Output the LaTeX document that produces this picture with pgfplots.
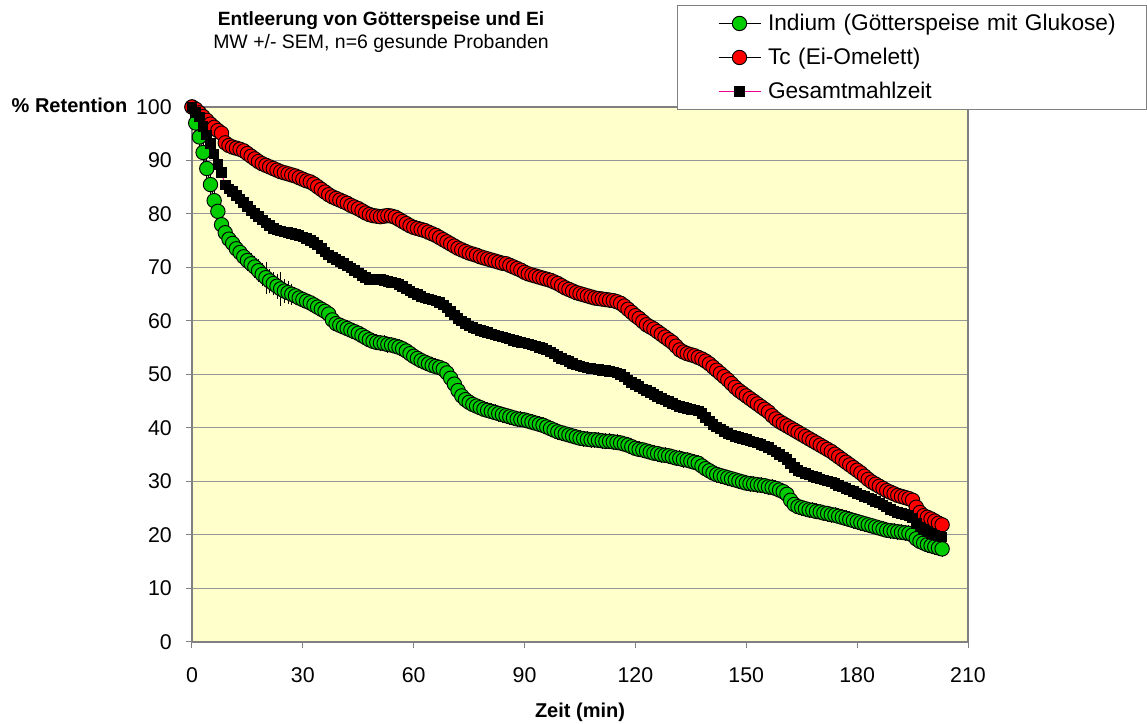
\documentclass[border=0pt]{standalone}
\usepackage{fontspec}
\setmainfont{Liberation Sans}
\usepackage{pgfplots}
\usepackage{pgfplotstable}
\pgfplotsset{compat=1.18}

\definecolor{plotbg}{RGB}{255,255,204}
\definecolor{indgreen}{RGB}{0,204,0}
\definecolor{tcred}{RGB}{255,0,0}
\definecolor{framegray}{RGB}{128,128,128}
\definecolor{gridgray}{RGB}{150,150,150}

% t: Zeit (min); ind: Indium (% Retention); ise: SEM Indium; tc: Tc; ges: Gesamtmahlzeit
\pgfplotstableread{
t ind ise tc ges
0 100 0 100 100
1 97 1.5 99.6 99
2 94.4 1.5 98.9 98.1
3 91.5 1.5 98.2 96.3
4 88.5 1.5 97.5 94.8
5 85.5 1.2 96.8 93.2
6 82.5 1 96.2 91.2
7 80.5 1 95.6 89.2
8 78 1 95.1 87.7
9 76.5 1 93.3 85.4
10 75.3 1 92.8 84.7
11 74.5 1 92.5 84.2
12 73.5 1 92.3 83.5
13 72.8 1 92.1 82.8
14 72 1 91.8 82.1
15 71.3 1 91.3 81.4
16 70.7 1 90.8 80.7
17 70.1 1.1 90.3 80.1
18 69.4 1.2 89.8 79.5
19 68.7 1.2 89.4 78.9
20 68.1 2 89.1 78.3
21 67.5 1.2 88.8 77.8
22 67 1.2 88.5 77.3
23 66.5 1.3 88.2 77
24 66 2.2 87.9 76.8
25 65.6 1.2 87.7 76.6
26 65.3 1.1 87.5 76.5
27 65 1 87.3 76.4
28 64.7 0.5 87.1 76.2
29 64.3 0.5 86.8 76
30 64 0.5 86.5 75.7
31 63.7 0.5 86.2 75.4
32 63.4 0.5 86 75.1
33 63 0.5 85.6 74.7
34 62.6 0.5 85.1 74.2
35 62.2 0.5 84.6 73.6
36 61.8 0.5 84.1 72.9
37 61.3 0.5 83.6 72.3
38 60.2 0.5 83.2 71.9
39 59.5 0.5 82.9 71.5
40 59.2 0.5 82.6 71.1
41 58.9 0.5 82.3 70.7
42 58.6 0.5 82 70.3
43 58.3 0.5 81.6 69.9
44 58 0.5 81.3 69.4
45 57.7 0.5 81 69
46 57.3 0.5 80.6 68.5
47 56.9 0.5 80.2 68.1
48 56.5 0.5 79.9 67.8
49 56.2 0.5 79.7 67.7
50 56 0.5 79.6 67.7
51 55.9 0.5 79.5 67.7
52 55.8 0.5 79.6 67.6
53 55.6 0.5 79.7 67.4
54 55.5 0.5 79.6 67.2
55 55.3 0.5 79.4 67.1
56 55.1 0.5 79 66.8
57 54.8 0.5 78.6 66.4
58 54.4 0.5 78.2 66
59 53.9 0.5 77.8 65.6
60 53.4 0.5 77.5 65.2
61 53 0.5 77.3 64.9
62 52.6 0.5 77.1 64.6
63 52.3 0.5 76.9 64.3
64 52 0.5 76.6 64.1
65 51.7 0.5 76.3 63.9
66 51.5 0.5 76 63.7
67 51.3 0.5 75.6 63.5
68 51 0.5 75.2 63
69 50.3 0.5 74.8 62.4
70 49.3 0.5 74.4 61.8
71 48.2 0.5 74 61.1
72 47 0.5 73.6 60.5
73 46 0.5 73.3 60
74 45.3 0.5 73 59.5
75 44.8 0.5 72.7 59.1
76 44.4 0.5 72.5 58.8
77 44.1 0.5 72.3 58.5
78 43.8 0.5 72 58.2
79 43.5 0.5 71.8 58
80 43.3 0.5 71.6 57.8
81 43.1 0.5 71.4 57.6
82 42.9 0.5 71.2 57.4
83 42.7 0.5 71 57.2
84 42.5 0.5 70.8 57
85 42.3 0.5 70.7 56.8
86 42.1 0.5 70.4 56.6
87 41.9 0.5 70.1 56.4
88 41.7 0.5 69.8 56.2
89 41.6 0.5 69.5 56
90 41.5 0.5 69.1 55.9
91 41.3 0.5 68.8 55.7
92 41.1 0.5 68.6 55.5
93 40.9 0.5 68.4 55.3
94 40.7 0.5 68.2 55.1
95 40.5 0.5 68 54.9
96 40.2 0.5 67.8 54.6
97 39.9 0.5 67.6 54.2
98 39.6 0.5 67.3 53.8
99 39.3 0.5 67 53.4
100 39.1 0.5 66.6 53
101 38.9 0.5 66.2 52.7
102 38.7 0.5 65.9 52.4
103 38.5 0.5 65.6 52.1
104 38.3 0.5 65.3 51.8
105 38.1 0.5 65.1 51.6
106 38 0.5 64.9 51.4
107 37.9 0.5 64.7 51.2
108 37.8 0.5 64.5 51.1
109 37.8 0.5 64.3 51
110 37.7 0.5 64.2 50.9
111 37.6 0.5 64.1 50.8
112 37.5 0.5 64 50.7
113 37.5 0.5 63.9 50.6
114 37.4 0.5 63.8 50.5
115 37.3 0.5 63.6 50.3
116 37.2 0.5 63.3 50
117 37 0.5 62.8 49.5
118 36.8 0.5 62.2 49
119 36.5 0.5 61.6 48.5
120 36.2 0.5 61 48.1
121 36 0.5 60.5 47.7
122 35.9 0.5 59.9 47.3
123 35.7 0.5 59.3 47
124 35.5 0.5 58.9 46.6
125 35.3 0.5 58.5 46.3
126 35.2 0.5 58 45.9
127 35 0.5 57.5 45.5
128 34.9 0.5 57 45.2
129 34.8 0.5 56.5 44.9
130 34.6 0.5 56 44.6
131 34.4 0.5 55.3 44.3
132 34.3 0.5 54.6 44
133 34.1 0.5 54.2 43.8
134 34 0.5 53.9 43.6
135 33.8 0.5 53.7 43.5
136 33.6 0.5 53.5 43.4
137 33.4 0.5 53.2 43.2
138 32.9 0.5 52.9 42.7
139 32.4 0.5 52.5 42
140 32 0.5 52 41.3
141 31.6 0.5 51.4 40.7
142 31.3 0.5 50.8 40.2
143 31.1 0.5 50.2 39.8
144 30.9 0.5 49.6 39.4
145 30.7 0.5 49 39
146 30.5 0.5 48.3 38.7
147 30.3 0.5 47.6 38.4
148 30.1 0.5 47 38.2
149 29.9 0.5 46.5 38
150 29.7 0.5 46 37.8
151 29.6 0.5 45.5 37.6
152 29.5 0.5 45 37.4
153 29.4 0.5 44.5 37.2
154 29.3 0.5 44 36.9
155 29.2 0.5 43.5 36.6
156 29 0.5 43 36.3
157 28.9 0.5 42.3 35.9
158 28.7 0.5 41.7 35.5
159 28.4 0.5 41.2 35.1
160 28.1 0.5 40.8 34.6
161 27.6 0.5 40.4 34.1
162 26.5 0.5 40 33.4
163 25.7 0.5 39.6 32.6
164 25.3 0.5 39.2 32.1
165 25.1 0.5 38.8 31.8
166 24.9 0.5 38.4 31.5
167 24.7 0.5 38 31.2
168 24.6 0.5 37.6 30.9
169 24.4 0.5 37.2 30.7
170 24.3 0.5 36.8 30.5
171 24.1 0.5 36.4 30.3
172 24 0.5 36 30.1
173 23.8 0.5 35.6 29.9
174 23.7 0.5 35.1 29.6
175 23.5 0.5 34.6 29.3
176 23.3 0.5 34.1 29
177 23.1 0.5 33.6 28.7
178 22.9 0.5 33.1 28.4
179 22.7 0.5 32.6 28.1
180 22.5 0.5 32.1 27.8
181 22.3 0.5 31.6 27.5
182 22.1 0.5 31 27.2
183 21.9 0.5 30.4 26.9
184 21.7 0.5 29.9 26.6
185 21.5 0.5 29.5 26.3
186 21.3 0.5 29.1 26
187 21.1 0.5 28.7 25.6
188 20.9 0.5 28.3 25.2
189 20.8 0.5 28 24.8
190 20.7 0.5 27.7 24.5
191 20.6 0.5 27.4 24.2
192 20.5 0.5 27.2 24
193 20.4 0.5 27 23.8
194 20.3 0.5 26.8 23.6
195 20 0.5 26.5 23.2
196 19.3 0.5 25.2 22.2
197 18.8 0.5 24.2 21.5
198 18.5 0.5 23.6 21
199 18.2 0.5 23.3 20.6
200 18 0.5 23 20.3
201 17.8 0.5 22.6 20
202 17.6 0.5 22.2 19.8
203 17.4 0.5 21.9 19.6
}\data

\begin{document}
\begin{tikzpicture}
\begin{axis}[
  name=ax,
  width=582pt, height=401.25pt, scale only axis,
  xmin=0, xmax=210, ymin=0, ymax=100,
  xtick={0,30,...,210}, ytick={0,10,...,100},
  xtick pos=left, ytick pos=left,
  tick align=outside, major tick length=4.5pt,
  tick style={framegray, line width=0.75pt},
  axis line style={framegray, line width=1.1pt},
  axis background/.style={fill=plotbg},
  ymajorgrids, major grid style={gridgray, line width=0.75pt},
  clip=false,
  /pgf/number format/assume math mode=true,
  tick label style={font=\fontsize{16}{19}\selectfont},
  xticklabel style={anchor=base, yshift=-26.25pt},
  yticklabel style={anchor=east, inner sep=0pt, xshift=-10.5pt},
  xlabel={Zeit (min)},
  xlabel style={font=\bfseries\fontsize{15}{18}\selectfont,
    at={(axis description cs:0.5,0)}, anchor=base, yshift=-57pt},
  legend cell align=left,
  legend style={at={(rel axis cs:0.625,1.1907)}, anchor=north west,
    draw=framegray, line width=0.75pt, fill=white,
    inner xsep=0pt, inner ysep=5.5pt, row sep=9.5pt, column sep=5.25pt,
    nodes={font=\fontsize{17}{20}\selectfont, inner sep=0pt,
      text height=13.5pt, text depth=2.5pt, text width=283.5pt, align=left}},
  legend image code/.code={%
    \path[draw=none, fill=none] (-30.75pt,-2pt) rectangle (31.5pt,2pt);
    \draw[mark repeat=2, mark phase=2, #1]
      plot coordinates {(0pt,0pt) (15.75pt,0pt) (31.5pt,0pt)};},
]
\addplot[black, line width=0.75pt, mark=*, mark size=5.4pt,
  mark options={fill=indgreen, draw=black, line width=0.7pt},
  error bars/.cd, y dir=both, y explicit,
  error bar style={black, line width=0.6pt},
  error mark options={black, mark size=4pt, line width=0.6pt}]
  table[x=t, y=ind, y error=ise] {\data};
\addlegendentry{Indium (Götterspeise mit Glukose)}
\addplot[black, line width=0.75pt, mark=*, mark size=5.4pt,
  mark options={fill=tcred, draw=black, line width=0.7pt}]
  table[x=t, y=tc] {\data};
\addlegendentry{Tc (Ei-Omelett)}
\addplot[magenta, line width=0.75pt, mark=square*, mark size=3.6pt,
  mark options={fill=black, draw=black}]
  table[x=t, y=ges] {\data};
\addlegendentry{Gesamtmahlzeit}
\end{axis}
\node[anchor=base, font=\bfseries\fontsize{14.4}{17}\selectfont]
  at ([shift={(141.75pt,462pt)}]ax.south west) {Entleerung von Götterspeise und Ei};
\node[anchor=base, font=\fontsize{14.6}{17}\selectfont]
  at ([shift={(141.75pt,444.75pt)}]ax.south west) {MW +/- SEM, n=6 gesunde Probanden};
\node[anchor=base east, font=\bfseries\fontsize{15}{18}\selectfont]
  at ([shift={(-45pt,396.75pt)}]ax.south west) {\% Retention};
\pgfresetboundingbox
\path[use as bounding box] ([shift={(-144pt,-61.5pt)}]ax.south west)
  rectangle ([shift={(716.25pt,481.5pt)}]ax.south west);
\end{tikzpicture}
\end{document}
